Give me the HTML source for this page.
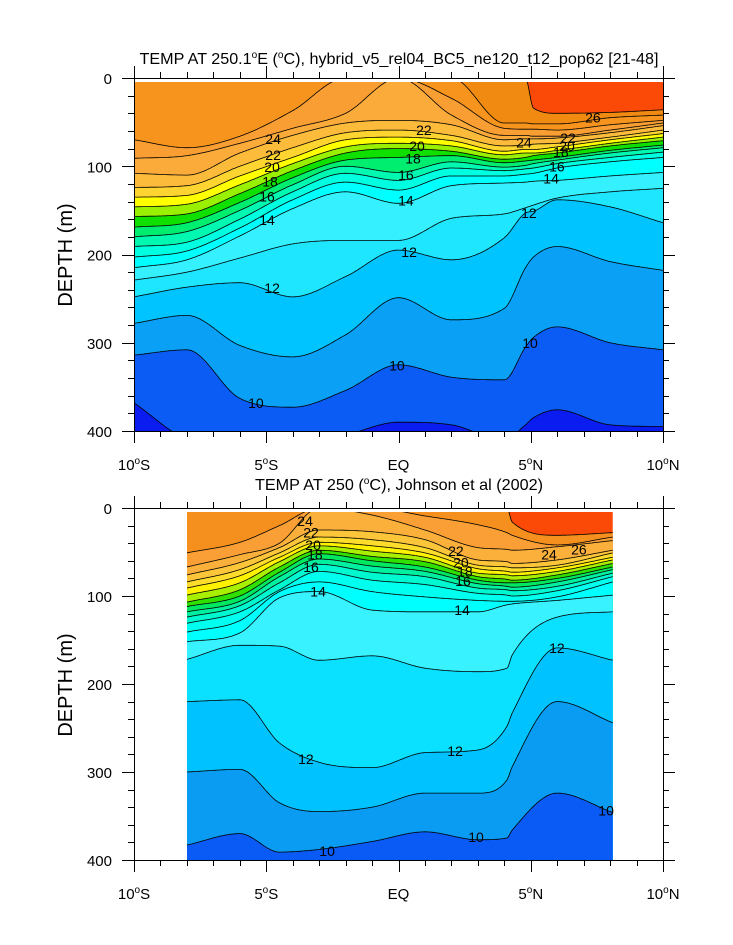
<!DOCTYPE html>
<html><head><meta charset="utf-8">
<style>
html,body{margin:0;padding:0;background:#fff;}
svg{display:block;font-family:"Liberation Sans",Arial,sans-serif;}
</style></head>
<body>
<svg id="chart" width="733" height="945" viewBox="0 0 733 945" xmlns="http://www.w3.org/2000/svg">
<defs>
<clipPath id="clipTop"><rect x="134" y="82" width="529" height="349"/></clipPath>
<clipPath id="clipBot"><rect x="187" y="512" width="426" height="348"/></clipPath>
</defs>
<rect x="0" y="0" width="733" height="945" fill="#fff"/>
<g id="topFills" clip-path="url(#clipTop)"></g>
<g id="topLinesG" clip-path="url(#clipTop)"></g>
<g id="botFills" clip-path="url(#clipBot)"></g>
<g id="botLinesG" clip-path="url(#clipBot)"></g>
<g id="axes"></g>
<g id="clabels"></g>
<text x="399" y="64" font-size="16" text-anchor="middle" textLength="519" lengthAdjust="spacingAndGlyphs">TEMP AT 250.1<tspan font-size="10" dy="-6">o</tspan><tspan dy="6">E (</tspan><tspan font-size="10" dy="-6">o</tspan><tspan dy="6">C), hybrid_v5_rel04_BC5_ne120_t12_pop62 [21-48]</tspan></text>
<text x="399" y="490" font-size="16" text-anchor="middle" textLength="288" lengthAdjust="spacingAndGlyphs">TEMP AT 250 (<tspan font-size="10" dy="-6">o</tspan><tspan dy="6">C), Johnson et al (2002)</tspan></text>
<text transform="translate(72,255) rotate(-90)" font-size="20" text-anchor="middle">DEPTH (m)</text>
<text transform="translate(72,685) rotate(-90)" font-size="20" text-anchor="middle">DEPTH (m)</text>
<script>
// ---------------- TOP PANEL DATA (depth in m of each isotherm) ----------------
const topLats = [-10,-8,-6,-4,-2,0,2,4,4.8,5.1,6,8,10];
const topT26   = [0,0,0,0,0,0,0,0,0,34,40,39,36];
const topT255  = [0,0,0,0,0,0,0,51,51,52,52,45,42];
const topT25   = [70,79,66,37,0,0,23,57,58,58,59,53,48];
const topT245  = [91,88,74,57,40,0,42,65,65,66,66,59,51];
const topT24   = [108,110,85,65,51,48,53,70,69,69,68,62,54];
const topT23   = [124,122,100,79,62,59,65,77,76,75,74,67,59];
const topT22   = [135,133,111,90,70,67,71,83,81,81,78,70,63];
const topT21   = [146,143,121,97,78,74,77,87,85,85,82,74,67];
const topT20   = [157,154,131,105,85,80,83,92,90,88,85,77,71];
const topT19   = [169,164,141,113,93,90,88,96,94,93,90,82,76];
const topT18   = [180,174,150,121,100,107,95,101,99,97,93,85,79];
const topT17   = [191,186,160,129,108,116,102,105,103,102,97,90,84];
const topT16   = [203,196,170,138,118,127,111,111,109,108,102,95,90];
const topT15   = [215,206,179,148,129,142,122,119,118,117,116,111,107];
const topT14   = [229,220,204,188,184,184,159,154,147,144,136,129,125];
const topT12   = [248,237,232,248,225,195,206,181,153,151,138,146,164];
const topT11   = [278,269,303,316,291,249,274,261,215,203,191,208,218];
const topT10   = [314,308,363,373,354,325,339,342,305,294,282,300,308];
const topT9    = [368,410,421,421,405,390,393,410,393,385,376,393,395];
const topLevels = [26,25.5,25,24.5,24,23,22,21,20,19,18,17,16,15,14,12,11,10,9];
const topColors = ['#f08a10','#f7941e','#f99e33','#fbab3a','#fdbb3b','#fed431','#ffff00','#99f000','#10e000','#00ee70','#00f8b0','#00ffe0','#00ffff','#35f0ff','#1ee6ff','#00c4ff','#0aa0f5','#0a5cf5','#0a1cf0'];
const topSurface = '#fb4a08';
const topLabelText  = ['24','22','20','18','16','14','12','10','22','20','18','16','14','12','10','26','22','20','18','16','14','12','10','24'];
const topLabelLat   = [-4.74,-4.74,-4.78,-4.86,-4.97,-4.97,-4.78,-5.39,0.96,0.7,0.55,0.28,0.28,0.4,-0.06,7.35,6.41,6.37,6.14,5.99,5.77,4.93,4.97,4.74];
const topLabelDepth = [69,87,101,117,134,161,238,368,59,77,91,110,139,197,326,45,68,77,84,100,114,153,300,73];

// ---------------- BOTTOM PANEL DATA ----------------
const botLats = [-8,-6,-4.5,-3,-1,1,3,4.1,4.3,6,8.1];
const botT26  = [0,0,0,0,0,0,0,0,16,31,28];
const botT25  = [51,39,20,0,0,9,19,28,31,42,33];
const botT24  = [67,53,40,0,8,25,45,47,48,44,37];
const botT23  = [76,62,45,25,27,36,59,61,63,59,48];
const botT22  = [84,70,51,33,36,45,65,67,68,65,51];
const botT21  = [91,77,56,39,43,51,69,72,73,68,56];
const botT20  = [99,85,61,43,49,56,74,76,77,72,59];
const botT19  = [107,93,67,48,55,61,78,81,82,76,63];
const botT18  = [112,100,73,52,60,67,82,85,85,80,67];
const botT17  = [118,106,78,58,66,72,86,89,90,84,70];
const botT16  = [124,111,85,64,73,78,91,93,94,89,74];
const botT15  = [131,118,93,72,82,87,97,99,100,94,78];
const botT145 = [141,128,95,84,95,101,105,106,106,101,84];
const botT14  = [152,142,102,95,116,118,118,110,109,105,99];
const botT13  = [172,156,157,173,168,182,186,182,167,124,118];
const botT12  = [220,218,267,289,295,278,275,248,233,159,173];
const botT11  = [300,297,335,345,340,324,324,309,294,220,244];
const botT10  = [383,370,391,388,379,368,377,375,366,324,346];
const botLevels = [26,25,24,23,22,21,20,19,18,17,16,15,14.5,14,13,12,11,10];
const botColors = ['#f5901e','#f99f35','#fbb03b','#fdc53a','#fedc2c','#fff200','#a8f000','#30e000','#00e860','#00f0a0','#00f8d0','#00ffee','#00ffff','#38f2ff','#0ae0ff','#00c2ff','#0a9cf2','#0a5af5'];
const botSurface = '#fb4a08';
const botLabelText  = ['24','22','20','18','16','14','22','20','18','16','14','24','26','12','12','12','10','10','10'];
const botLabelLat   = [-3.53,-3.31,-3.23,-3.16,-3.31,-3.04,2.17,2.36,2.51,2.44,2.4,5.69,6.82,-3.5,2.14,5.99,-2.7,2.93,7.85];
const botLabelDepth = [15,28,42,53,67,95,49,62,72,83,116,53,47,285,276,159,390,374,344];

const xTickLats = [-10,-5,0,5,10];
const xTickText = ['10°S','5°S','EQ','5°N','10°N'];
const yTickVals = [0,100,200,300,400];

const topLines = [topT26,topT255,topT25,topT245,topT24,topT23,topT22,topT21,topT20,topT19,topT18,topT17,topT16,topT15,topT14,topT12,topT11,topT10,topT9];
const botLines = [botT26,botT25,botT24,botT23,botT22,botT21,botT20,botT19,botT18,botT17,botT16,botT15,botT145,botT14,botT13,botT12,botT11,botT10];

const NS = 'http://www.w3.org/2000/svg';
const X0 = 134, X1 = 663;
function xScale(lat){ return X0 + (lat + 10) / 20 * (X1 - X0); }
function makeY(top, bottom){ return function(d){ return top + d / 400 * (bottom - top); }; }
const yTop = makeY(78, 431);
const yBot = makeY(508, 860);

function monotone(xs, ys){
  const n = xs.length, d = [], m = new Array(n);
  for (let i = 0; i < n - 1; i++) d.push((ys[i+1]-ys[i])/(xs[i+1]-xs[i]));
  m[0] = d[0]; m[n-1] = d[n-2];
  for (let i = 1; i < n - 1; i++) m[i] = (d[i-1]*d[i] <= 0) ? 0 : (d[i-1]+d[i])/2;
  for (let i = 0; i < n - 1; i++) {
    if (d[i] === 0) { m[i] = 0; m[i+1] = 0; continue; }
    const a = m[i]/d[i], b = m[i+1]/d[i], s = a*a + b*b;
    if (s > 9) { const t = 3/Math.sqrt(s); m[i] = t*a*d[i]; m[i+1] = t*b*d[i]; }
  }
  return function(x){
    let i = 0;
    while (i < n - 2 && x > xs[i+1]) i++;
    const h = xs[i+1]-xs[i], t = Math.min(1, Math.max(0, (x-xs[i])/h));
    const t2 = t*t, t3 = t2*t;
    return (2*t3-3*t2+1)*ys[i] + (t3-2*t2+t)*h*m[i] + (-2*t3+3*t2)*ys[i+1] + (t3-t2)*h*m[i+1];
  };
}

function drawPanel(lats, lines, colors, surface, yS, fillG, lineG, yTopPix, yBottomPix, prefix){
  const xs = lats.map(xScale);
  const xa = xs[0], xb = xs[xs.length-1];
  const bg = document.createElementNS(NS, 'rect');
  bg.setAttribute('x', xa); bg.setAttribute('y', yTopPix);
  bg.setAttribute('width', xb - xa); bg.setAttribute('height', yBottomPix - yTopPix);
  bg.setAttribute('fill', surface);
  
  
  fillG.appendChild(bg);
  lines.forEach(function(vals, idx){
    const f = monotone(xs, vals.map(yS));
    let pts = [];
    for (let x = xa; x <= xb + 0.01; x += 1) pts.push([x, f(x)]);
    pts.push([xb, f(xb)]);
    const dLine = 'M' + pts.map(p => p[0].toFixed(1) + ',' + p[1].toFixed(1)).join('L');
    const poly = document.createElementNS(NS, 'path');
    poly.setAttribute('d', dLine + 'L' + xb + ',' + (yBottomPix + 10) + 'L' + xa + ',' + (yBottomPix + 10) + 'Z');
    poly.setAttribute('fill', colors[idx]);
    
    
    fillG.appendChild(poly);
    const ln = document.createElementNS(NS, 'path');
    ln.setAttribute('d', dLine);
    ln.setAttribute('fill', 'none');
    ln.setAttribute('stroke', '#000');
    ln.setAttribute('stroke-width', '0.8');
    
    
    lineG.appendChild(ln);
  });
}
drawPanel(topLats, topLines, topColors, topSurface, yTop, document.getElementById('topFills'), document.getElementById('topLinesG'), 82, 431, 'top');
drawPanel(botLats, botLines, botColors, botSurface, yBot, document.getElementById('botFills'), document.getElementById('botLinesG'), 512, 860, 'bottom');

// contour labels
const lg = document.getElementById('clabels');
function addLabels(texts, lats, depths, yS, prefix){
  texts.forEach(function(t, i){
    const el = document.createElementNS(NS, 'text');
    el.setAttribute('x', xScale(lats[i]).toFixed(1));
    el.setAttribute('y', (yS(depths[i]) + 5).toFixed(1));
    el.setAttribute('font-size', '14');
    el.setAttribute('text-anchor', 'middle');
    el.textContent = t;
    
    
    lg.appendChild(el);
  });
}
addLabels(topLabelText, topLabelLat, topLabelDepth, yTop, 'top');
addLabels(botLabelText, botLabelLat, botLabelDepth, yBot, 'bottom');

// axes
const ax = document.getElementById('axes');
function line(x1,y1,x2,y2,name){
  const l = document.createElementNS(NS, 'line');
  l.setAttribute('x1', x1); l.setAttribute('y1', y1); l.setAttribute('x2', x2); l.setAttribute('y2', y2);
  l.setAttribute('stroke', '#000'); l.setAttribute('stroke-width', '1');
  
  
  ax.appendChild(l);
}
function drawAxes(yS, top, bottom, prefix, labelY){
  const fr = document.createElementNS(NS, 'rect');
  fr.setAttribute('x', X0 + 0.5); fr.setAttribute('y', top + 0.5);
  fr.setAttribute('width', X1 - X0); fr.setAttribute('height', bottom - top);
  fr.setAttribute('fill', 'none'); fr.setAttribute('stroke', '#000'); fr.setAttribute('stroke-width', '1');
  
  
  ax.appendChild(fr);
  for (let lat = -10; lat <= 10; lat++) {
    const x = Math.round(xScale(lat)) + 0.5;
    const major = lat % 5 === 0;
    const len = major ? 12 : 6;
    line(x, bottom, x, bottom + len, prefix + '-x-tick');
    line(x, top, x, top - len, prefix + '-x-tick-top');
  }
  for (let d = 0; d <= 400; d += 20) {
    const y = Math.round(yS(d)) + 0.5;
    const major = d % 100 === 0;
    const len = major ? 12 : 6;
    line(X0 - len, y, X0, y, prefix + '-y-tick');
    line(X1, y, X1 + len, y, prefix + '-y-tick-right');
  }
  yTickVals.forEach(function(v){
    const t = document.createElementNS(NS, 'text');
    t.setAttribute('x', 112); t.setAttribute('y', (yS(v) + 6).toFixed(1));
    t.setAttribute('font-size', '15'); t.setAttribute('text-anchor', 'end');
    t.textContent = v;
    
    
    ax.appendChild(t);
  });
  xTickLats.forEach(function(lat, i){
    const t = document.createElementNS(NS, 'text');
    t.setAttribute('x', xScale(lat).toFixed(1)); t.setAttribute('y', labelY);
    t.setAttribute('font-size', '15'); t.setAttribute('text-anchor', 'middle');
    const s = xTickText[i];
    if (s.indexOf('°') >= 0) {
      const parts = s.split('°');
      const a = document.createElementNS(NS, 'tspan'); a.textContent = parts[0];
      const b = document.createElementNS(NS, 'tspan'); b.textContent = 'o'; b.setAttribute('font-size', '10'); b.setAttribute('dy', '-6');
      const c = document.createElementNS(NS, 'tspan'); c.textContent = parts[1]; c.setAttribute('dy', '6');
      t.appendChild(a); t.appendChild(b); t.appendChild(c);
    } else { t.textContent = s; }
    
    
    ax.appendChild(t);
  });
}
drawAxes(yTop, 78, 431, 'top', 470);
drawAxes(yBot, 508, 860, 'bottom', 899);
</script>
</svg>
</body></html>
